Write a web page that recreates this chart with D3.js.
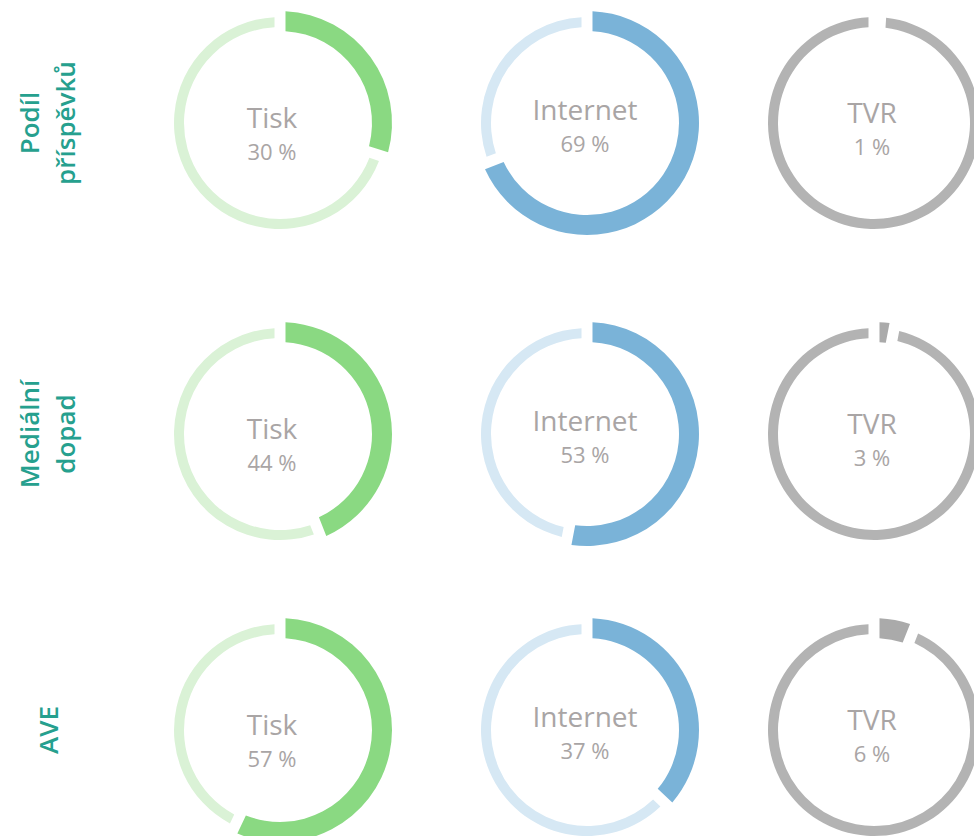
<!DOCTYPE html>
<html>
<head>
<meta charset="utf-8">
<script src="https://cdn.jsdelivr.net/npm/d3@7"></script>
<style>
  html, body { margin: 0; padding: 0; background: #ffffff; }
  svg { display: block; }
</style>
</head>
<body>
<svg id="chart" width="974" height="836"></svg>
<script>
// ---- data ----
const rowLabels = [["Podíl", "příspěvků"], ["Mediální", "dopad"], ["AVE"]];
const categories = ["Tisk", "Internet", "TVR"];
const shareValues = [30, 69, 1];     // Podíl příspěvků
const impactValues = [44, 53, 3];    // Mediální dopad
const aveValues = [57, 37, 6];       // AVE
const seriesColors = ["#8ad982", "#7ab3d8", "#aaaaaa"];
const restColors = ["#daf2d6", "#d6e8f4", "#b3b3b3"];

// ---- layout ----
const rows = [shareValues, impactValues, aveValues];
const colX = [280, 587, 874];
const rowY = [123, 434, 730];
const textDx = [-8, -2, -2];
const labelDy = [5, -3, 0];
const pctDy = [37, 29, 32];

const svg = d3.select("#chart");

const defs = svg.append("defs");
defs.append("filter").attr("id", "soft")
  .attr("x", "-10%").attr("y", "-10%").attr("width", "120%").attr("height", "120%")
  .append("feGaussianBlur").attr("stdDeviation", 0.6);

const pie = d3.pie().sort(null).value(d => d);
const valueArc = d3.arc().innerRadius(92).outerRadius(112).padAngle(0.11).padRadius(100);
const restArc = d3.arc().innerRadius(96).outerRadius(106).padAngle(0.11).padRadius(100);

rows.forEach((vals, ri) => {
  // row label
  const lines = rowLabels[ri];
  const lg = svg.append("g").attr("transform", `translate(0,${rowY[ri]}) rotate(-90)`);
  const ys = lines.length === 2 ? [39, 75] : [58];
  lines.forEach((t, li) => {
    lg.append("text")
      .attr("x", 0).attr("y", ys[li])
      .attr("text-anchor", "middle")
      .attr("font-family", "'Open Sans', sans-serif")
      .attr("font-weight", 600)
      .attr("font-size", 26)
      .attr("fill", "#26a08e")
      .text(t);
  });

  vals.forEach((v, ci) => {
    const g = svg.append("g").attr("transform", `translate(${colX[ci]},${rowY[ri]})`);
    const arcs = pie([v, 100 - v]);
    g.append("path")
      .attr("d", restArc(arcs[1]))
      .attr("fill", restColors[ci])
      .attr("filter", "url(#soft)");
    g.append("path")
      .attr("d", valueArc(arcs[0]))
      .attr("fill", seriesColors[ci]);

    g.append("text")
      .attr("x", textDx[ci]).attr("y", labelDy[ci])
      .attr("text-anchor", "middle")
      .attr("font-family", "'Open Sans', sans-serif")
      .attr("font-size", 28)
      .attr("fill", "#a9a5a5")
      .text(categories[ci]);
    g.append("text")
      .attr("x", textDx[ci]).attr("y", pctDy[ci])
      .attr("text-anchor", "middle")
      .attr("font-family", "'Open Sans', sans-serif")
      .attr("font-size", 22)
      .attr("fill", "#a9a5a5")
      .text(v + " %");
  });
});
</script>
</body>
</html>
